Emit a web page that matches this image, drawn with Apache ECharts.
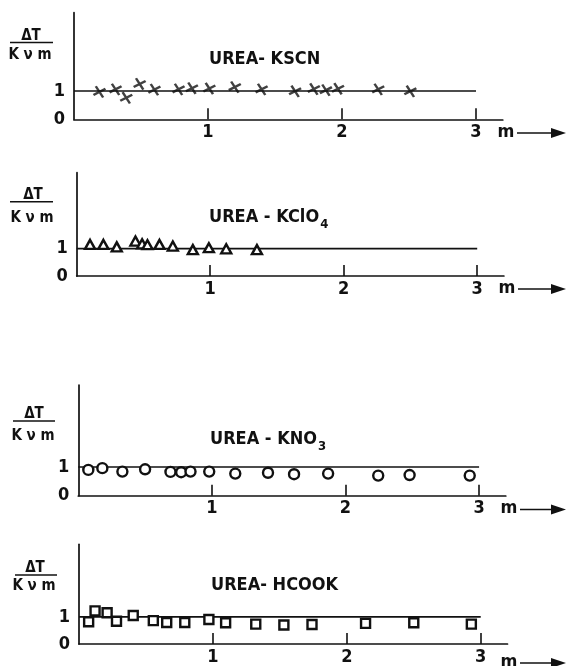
<!DOCTYPE html>
<html><head><meta charset="utf-8">
<script src="https://cdn.jsdelivr.net/npm/echarts@6/dist/echarts.min.js"></script>
<style>html,body{margin:0;padding:0;background:#fff}#c{width:570px;height:666px}</style>
</head><body><div id="c"></div>
<script>
// ---- data ----
const panelTitles = ['UREA- KSCN', 'UREA - KClO', 'UREA - KNO', 'UREA- HCOOK'];
const panelSubs = ['', '4', '3', ''];
const yAxisTop = ['ΔT', 'ΔT', 'ΔT', 'ΔT'];
const yAxisBottom = ['K ν m', 'K ν m', 'K ν m', 'K ν m'];
const xAxisName = 'm';
const xTickValues = [1, 2, 3];
const yTickValues = [0, 1];
const lineX = [0, 3];
const lineLevel = 1;

const kscnX = [0.19, 0.31, 0.39, 0.49, 0.60, 0.78, 0.88, 1.01, 1.20, 1.40, 1.65, 1.79, 1.88, 1.97, 2.27, 2.51];
const kscnY = [0.97, 1.06, 0.76, 1.25, 1.05, 1.06, 1.10, 1.09, 1.14, 1.06, 0.99, 1.07, 1.03, 1.08, 1.06, 0.99];

const kclo4X = [0.10, 0.20, 0.30, 0.44, 0.49, 0.53, 0.62, 0.72, 0.87, 0.99, 1.12, 1.35];
const kclo4Y = [1.15, 1.15, 1.06, 1.27, 1.17, 1.14, 1.15, 1.09, 0.96, 1.03, 0.99, 0.96];

const kno3X = [0.075, 0.18, 0.33, 0.50, 0.69, 0.77, 0.84, 0.98, 1.175, 1.42, 1.615, 1.87, 2.245, 2.48, 2.93];
const kno3Y = [0.90, 0.96, 0.84, 0.92, 0.83, 0.82, 0.84, 0.84, 0.77, 0.80, 0.75, 0.77, 0.70, 0.72, 0.70];

const hcookX = [0.072, 0.12, 0.21, 0.28, 0.405, 0.555, 0.655, 0.79, 0.97, 1.095, 1.32, 1.53, 1.74, 2.14, 2.50, 2.93];
const hcookY = [0.82, 1.22, 1.15, 0.84, 1.05, 0.86, 0.79, 0.79, 0.90, 0.78, 0.73, 0.70, 0.72, 0.76, 0.78, 0.73];

// ---- layout (pixels / styles) ----
const FONT = '"Liberation Sans Narrow", "DejaVu Sans Condensed", "Liberation Sans", sans-serif';
const INK = '#111';
const layout = [
  {left:74,   top:12.7,  w:428.8, h:106.6, ymax:3.77, tx:209, ty:59,
   fx:31, fT:36.5, fBar:42.5, fB:55, b0:10, b1:53, mx:506, my:132},
  {left:76.7, top:172.7, w:427.2, h:103.3, ymax:3.76, tx:209, ty:217,
   fx:33, fT:195.5, fBar:201.7, fB:218, b0:10, b1:53, mx:507, my:288},
  {left:78.3, top:385,   w:427.5, h:110.7, ymax:3.86, tx:210, ty:439,
   fx:34, fT:414.5, fBar:421, fB:436.5, b0:13, b1:55, mx:509, my:508.5},
  {left:79,   top:544.3, w:428.5, h:103.4, ymax:3.67, tx:211, ty:585,
   fx:35, fT:568, fBar:575, fB:586.5, b0:15, b1:57, mx:509, my:662}
];
const sets = [
  {x:kscnX,  y:kscnY,  symbol:'path://M0,0L10,10M10,0L0,10', size:[10,9], rot:-15, stroke:true},
  {x:kclo4X, y:kclo4Y, symbol:'triangle', size:[10,9], rot:0},
  {x:kno3X,  y:kno3Y,  symbol:'circle', size:10, rot:0},
  {x:hcookX, y:hcookY, symbol:'rect', size:9, rot:0}
];

const grids = [], xAxes = [], yAxes = [], series = [], graphics = [];
const labelStyle = {color:INK, fontSize:18, fontWeight:'bold', fontFamily:FONT};
layout.forEach((L, i) => {
  grids.push({left:L.left, top:L.top, width:L.w, height:L.h, containLabel:false});
  xAxes.push({
    type:'value', gridIndex:i, min:0, max:3.2, interval:1,
    axisLine:{show:true, onZero:false, lineStyle:{color:INK, width:1.7}},
    axisTick:{show:true, inside:true, length:11, customValues:xTickValues, lineStyle:{color:INK, width:1.6}},
    axisLabel:Object.assign({customValues:xTickValues, margin:4}, labelStyle),
    splitLine:{show:false}
  });
  yAxes.push({
    type:'value', gridIndex:i, min:0, max:L.ymax, interval:1,
    axisLine:{show:true, onZero:false, lineStyle:{color:INK, width:1.7}},
    axisTick:{show:false},
    axisLabel:Object.assign({customValues:yTickValues, margin:9}, labelStyle),
    splitLine:{show:false}
  });
  series.push({
    type:'line', xAxisIndex:i, yAxisIndex:i, symbol:'none', silent:true,
    data: lineX.map(x => [x, lineLevel]),
    lineStyle:{color:INK, width:1.7}, z:2
  });
  const S = sets[i];
  series.push({
    type:'scatter', xAxisIndex:i, yAxisIndex:i, symbol:S.symbol, symbolSize:S.size, symbolRotate:S.rot,
    data: S.x.map((x, k) => [x, S.y[k]]),
    itemStyle: S.stroke ? {color:'none', borderColor:INK, borderWidth:2.4}
                        : {color:'#fff', borderColor:INK, borderWidth:2.4, opacity:1},
    z:3
  });
  // panel label (with optional subscript)
  const txt = panelSubs[i] ? '{a|' + panelTitles[i] + '}{s|' + panelSubs[i] + '}' : '{a|' + panelTitles[i] + '}';
  graphics.push({type:'text', x:L.tx, y:L.ty, style:{
    text:txt, align:'left', verticalAlign:'middle',
    rich:{
      a:{fontSize:18, fontWeight:'bold', fontFamily:FONT, fill:INK, color:INK},
      s:{fontSize:13, fontWeight:'bold', fontFamily:FONT, fill:INK, color:INK, padding:[15, 0, 0, 1]}
    }
  }});
  // y-axis fraction label
  graphics.push({type:'text', x:L.fx, y:L.fT, style:{text:yAxisTop[i], font:'bold 15px ' + FONT, fill:INK, align:'center', verticalAlign:'middle'}});
  graphics.push({type:'line', shape:{x1:L.b0, y1:L.fBar, x2:L.b1, y2:L.fBar}, style:{stroke:INK, lineWidth:1.6}});
  graphics.push({type:'text', x:L.fx - 1, y:L.fB, style:{text:yAxisBottom[i], font:'bold 15px ' + FONT, fill:INK, align:'center', verticalAlign:'middle'}});
  // x-axis name with arrow
  graphics.push({type:'text', x:L.mx, y:L.my, style:{text:xAxisName, font:'bold 18px ' + FONT, fill:INK, align:'center', verticalAlign:'middle'}});
  graphics.push({type:'line', shape:{x1:L.mx + 11, y1:L.my + 1, x2:556, y2:L.my + 1}, style:{stroke:INK, lineWidth:1.7}});
  graphics.push({type:'polygon', shape:{points:[[551, L.my - 4], [566, L.my + 1], [551, L.my + 6]]}, style:{fill:INK}});
});

const chart = echarts.init(document.getElementById('c'), null, {renderer:'canvas'});
chart.setOption({
  backgroundColor:'#fff',
  animation:false,
  grid:grids, xAxis:xAxes, yAxis:yAxes, series:series,
  graphic:{elements:graphics}
});
</script></body></html>
